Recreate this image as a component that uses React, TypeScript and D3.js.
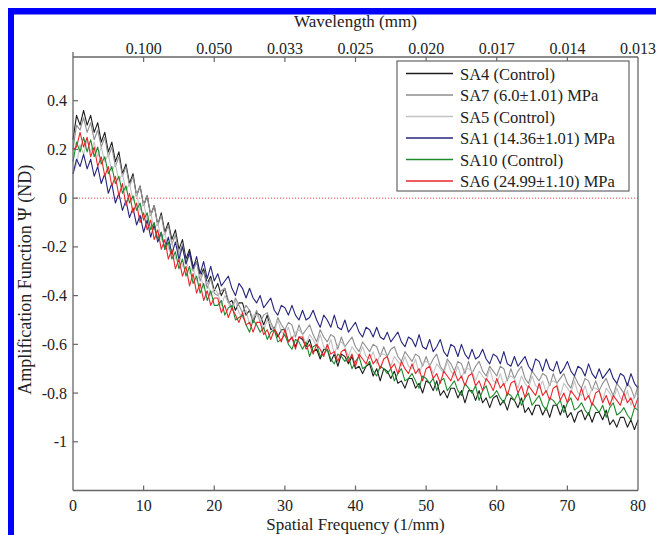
import React from "react";
import * as d3 from "d3";

// spatial frequency grid (1/mm), one sample every 0.5
const freq: number[] = d3.range(0, 80.0001, 0.5);

const xTicks = [0, 10, 20, 30, 40, 50, 60, 70, 80];
const yTicks = [0.4, 0.2, 0, -0.2, -0.4, -0.6, -0.8, -1];
const wlTickFreqs = [10, 20, 30, 40, 50, 60, 70, 80];
const wlTickLabels = ["0.100", "0.050", "0.033", "0.025", "0.020", "0.017", "0.014", "0.013"];

const SA4 = [
  0.24, 0.34, 0.30, 0.36, 0.30, 0.34, 0.27, 0.31, 0.23, 0.27,
  0.19, 0.23, 0.15, 0.19, 0.10, 0.14, 0.06, 0.10, 0.01, 0.05,
  -0.03, 0.01, -0.07, -0.03, -0.11, -0.06, -0.14, -0.10, -0.17, -0.13,
  -0.21, -0.17, -0.25, -0.21, -0.28, -0.26, -0.32, -0.29, -0.35, -0.32,
  -0.38,
  -0.35, -0.40, -0.37, -0.43, -0.42, -0.46, -0.43, -0.43, -0.48, -0.46,
  -0.51, -0.47, -0.48, -0.52, -0.48, -0.54, -0.53, -0.57, -0.54, -0.54,
  -0.59, -0.57, -0.61, -0.57, -0.58, -0.61, -0.58, -0.63, -0.62, -0.66,
  -0.62, -0.62, -0.67, -0.64, -0.69, -0.64, -0.65, -0.68, -0.65, -0.70,
  -0.69, -0.72, -0.69, -0.68, -0.73, -0.70, -0.75, -0.70, -0.71, -0.74,
  -0.71, -0.76, -0.75, -0.78, -0.74, -0.74, -0.78, -0.76, -0.80, -0.75,
  -0.76, -0.79, -0.75, -0.81, -0.79, -0.82, -0.78, -0.78, -0.82, -0.79,
  -0.84, -0.79, -0.79, -0.83, -0.79, -0.84, -0.82, -0.86, -0.82, -0.81,
  -0.85, -0.83, -0.87, -0.82, -0.83, -0.86, -0.82, -0.88, -0.86, -0.89,
  -0.85, -0.85, -0.89, -0.86, -0.90, -0.85, -0.85, -0.89, -0.85, -0.90,
  -0.88, -0.92, -0.88, -0.87, -0.91, -0.88, -0.92, -0.88, -0.88, -0.91,
  -0.87, -0.93, -0.91, -0.94, -0.90, -0.90, -0.94, -0.91, -0.95, -0.91,
];

const SA7 = [
  0.20, 0.30, 0.28, 0.33, 0.27, 0.31, 0.24, 0.28, 0.21, 0.25,
  0.17, 0.21, 0.13, 0.17, 0.09, 0.13, 0.05, 0.09, 0.01, 0.05,
  -0.03, 0.01, -0.07, -0.03, -0.11, -0.07, -0.15, -0.11, -0.19, -0.15,
  -0.23, -0.19, -0.27, -0.23, -0.30, -0.26, -0.34, -0.30, -0.37, -0.33,
  -0.39,
  -0.40, -0.38, -0.37, -0.42, -0.45, -0.41, -0.44, -0.47, -0.44, -0.46,
  -0.50, -0.46, -0.51, -0.48, -0.47, -0.51, -0.54, -0.49, -0.52, -0.54,
  -0.51, -0.52, -0.57, -0.52, -0.56, -0.54, -0.52, -0.56, -0.59, -0.54,
  -0.57, -0.59, -0.56, -0.57, -0.62, -0.57, -0.61, -0.59, -0.57, -0.61,
  -0.63, -0.59, -0.61, -0.63, -0.60, -0.61, -0.65, -0.61, -0.65, -0.62,
  -0.61, -0.65, -0.67, -0.63, -0.65, -0.67, -0.64, -0.65, -0.69, -0.65,
  -0.69, -0.66, -0.64, -0.69, -0.71, -0.66, -0.68, -0.71, -0.67, -0.68,
  -0.72, -0.67, -0.72, -0.69, -0.67, -0.71, -0.73, -0.69, -0.71, -0.73,
  -0.69, -0.70, -0.75, -0.70, -0.74, -0.71, -0.69, -0.74, -0.76, -0.71,
  -0.73, -0.75, -0.72, -0.73, -0.77, -0.72, -0.76, -0.74, -0.72, -0.76,
  -0.78, -0.73, -0.76, -0.78, -0.74, -0.75, -0.79, -0.75, -0.79, -0.76,
  -0.74, -0.78, -0.81, -0.76, -0.78, -0.80, -0.76, -0.78, -0.82, -0.77,
];

const SA5 = [
  0.10, 0.14, 0.22, 0.18, 0.24, 0.19, 0.23, 0.17, 0.21, 0.15,
  0.18, 0.11, 0.14, 0.07, 0.10, 0.03, 0.06, -0.01, 0.02, -0.05,
  -0.02, -0.09, -0.06, -0.13, -0.10, -0.17, -0.14, -0.21, -0.18, -0.25,
  -0.22, -0.28, -0.25, -0.31, -0.28, -0.34, -0.31, -0.37, -0.34, -0.40,
  -0.37,
  -0.39, -0.44, -0.40, -0.43, -0.46, -0.42, -0.47, -0.49, -0.46, -0.52,
  -0.48, -0.48, -0.50, -0.54, -0.50, -0.52, -0.55, -0.50, -0.55, -0.56,
  -0.53, -0.58, -0.55, -0.54, -0.56, -0.60, -0.56, -0.58, -0.61, -0.56,
  -0.61, -0.62, -0.58, -0.64, -0.60, -0.59, -0.61, -0.65, -0.61, -0.63,
  -0.65, -0.61, -0.65, -0.66, -0.63, -0.68, -0.64, -0.64, -0.65, -0.69,
  -0.65, -0.67, -0.69, -0.65, -0.69, -0.70, -0.66, -0.72, -0.68, -0.67,
  -0.68, -0.72, -0.68, -0.70, -0.72, -0.67, -0.71, -0.73, -0.69, -0.74,
  -0.70, -0.70, -0.71, -0.75, -0.71, -0.73, -0.75, -0.70, -0.75, -0.76,
  -0.72, -0.77, -0.74, -0.73, -0.74, -0.78, -0.73, -0.76, -0.78, -0.73,
  -0.77, -0.78, -0.75, -0.80, -0.76, -0.75, -0.76, -0.81, -0.76, -0.78,
  -0.80, -0.75, -0.80, -0.81, -0.77, -0.82, -0.78, -0.78, -0.79, -0.83,
  -0.78, -0.80, -0.83, -0.78, -0.82, -0.83, -0.79, -0.85, -0.81, -0.80,
];

const SA1 = [
  0.10, 0.16, 0.13, 0.18, 0.12, 0.16, 0.09, 0.13, 0.06, 0.10,
  0.02, 0.06, -0.02, 0.02, -0.05, -0.01, -0.08, -0.04, -0.11, -0.07,
  -0.14, -0.09, -0.16, -0.11, -0.18, -0.14, -0.21, -0.16, -0.23, -0.18,
  -0.25, -0.20, -0.27, -0.22, -0.29, -0.24, -0.31, -0.26, -0.33, -0.28,
  -0.34,
  -0.31, -0.36, -0.34, -0.32, -0.37, -0.40, -0.35, -0.37, -0.41, -0.37,
  -0.41, -0.43, -0.40, -0.45, -0.43, -0.41, -0.46, -0.48, -0.44, -0.45,
  -0.48, -0.44, -0.48, -0.50, -0.46, -0.50, -0.49, -0.46, -0.50, -0.53,
  -0.48, -0.50, -0.53, -0.48, -0.53, -0.54, -0.50, -0.55, -0.53, -0.51,
  -0.55, -0.57, -0.53, -0.54, -0.57, -0.53, -0.57, -0.58, -0.55, -0.59,
  -0.57, -0.55, -0.59, -0.61, -0.57, -0.58, -0.61, -0.56, -0.61, -0.62,
  -0.58, -0.63, -0.61, -0.58, -0.63, -0.65, -0.60, -0.61, -0.65, -0.60,
  -0.64, -0.66, -0.62, -0.66, -0.65, -0.62, -0.66, -0.68, -0.64, -0.65,
  -0.68, -0.63, -0.68, -0.69, -0.65, -0.69, -0.67, -0.65, -0.69, -0.71,
  -0.66, -0.67, -0.71, -0.66, -0.70, -0.71, -0.67, -0.72, -0.70, -0.67,
  -0.71, -0.73, -0.69, -0.70, -0.73, -0.68, -0.72, -0.74, -0.70, -0.74,
  -0.72, -0.70, -0.74, -0.76, -0.72, -0.73, -0.77, -0.72, -0.76, -0.78,
];

const SA10 = [
  0.15, 0.23, 0.19, 0.25, 0.19, 0.24, 0.17, 0.21, 0.14, 0.17,
  0.10, 0.13, 0.06, 0.09, 0.02, 0.05, -0.02, 0.01, -0.05, -0.02,
  -0.09, -0.06, -0.13, -0.10, -0.17, -0.14, -0.21, -0.18, -0.25, -0.22,
  -0.29, -0.25, -0.32, -0.28, -0.35, -0.32, -0.39, -0.35, -0.42, -0.38,
  -0.44,
  -0.44, -0.42, -0.48, -0.45, -0.44, -0.50, -0.49, -0.48, -0.52, -0.55,
  -0.50, -0.52, -0.55, -0.53, -0.58, -0.55, -0.54, -0.59, -0.58, -0.56,
  -0.60, -0.62, -0.58, -0.59, -0.62, -0.59, -0.65, -0.61, -0.60, -0.65,
  -0.64, -0.62, -0.66, -0.68, -0.64, -0.65, -0.67, -0.65, -0.70, -0.67,
  -0.65, -0.70, -0.69, -0.67, -0.71, -0.73, -0.69, -0.70, -0.72, -0.70,
  -0.75, -0.72, -0.70, -0.75, -0.74, -0.72, -0.75, -0.78, -0.73, -0.74,
  -0.76, -0.74, -0.79, -0.75, -0.74, -0.79, -0.77, -0.75, -0.79, -0.81,
  -0.76, -0.78, -0.80, -0.77, -0.83, -0.79, -0.77, -0.82, -0.81, -0.79,
  -0.82, -0.84, -0.80, -0.81, -0.83, -0.80, -0.85, -0.82, -0.80, -0.85,
  -0.83, -0.81, -0.85, -0.87, -0.82, -0.83, -0.85, -0.83, -0.88, -0.84,
  -0.82, -0.87, -0.86, -0.84, -0.87, -0.89, -0.84, -0.86, -0.88, -0.85,
  -0.90, -0.86, -0.84, -0.89, -0.88, -0.86, -0.89, -0.91, -0.86, -0.87,
];

const SA6 = [
  0.20, 0.21, 0.27, 0.21, 0.25, 0.17, 0.21, 0.13, 0.17, 0.09,
  0.13, 0.05, 0.09, 0.01, 0.06, -0.03, 0.02, -0.06, -0.02, -0.10,
  -0.06, -0.13, -0.09, -0.17, -0.13, -0.21, -0.17, -0.25, -0.21, -0.29,
  -0.25, -0.32, -0.28, -0.36, -0.31, -0.39, -0.35, -0.42, -0.38, -0.44,
  -0.41,
  -0.41, -0.47, -0.44, -0.49, -0.45, -0.48, -0.51, -0.47, -0.52, -0.51,
  -0.55, -0.51, -0.51, -0.56, -0.54, -0.58, -0.54, -0.56, -0.59, -0.54,
  -0.59, -0.57, -0.62, -0.57, -0.57, -0.62, -0.60, -0.64, -0.60, -0.62,
  -0.65, -0.60, -0.64, -0.63, -0.67, -0.63, -0.62, -0.67, -0.64, -0.69,
  -0.64, -0.66, -0.68, -0.64, -0.68, -0.66, -0.70, -0.66, -0.65, -0.70,
  -0.68, -0.72, -0.67, -0.70, -0.72, -0.68, -0.72, -0.70, -0.75, -0.70,
  -0.69, -0.74, -0.72, -0.76, -0.71, -0.73, -0.75, -0.71, -0.75, -0.73,
  -0.77, -0.73, -0.72, -0.77, -0.75, -0.79, -0.74, -0.76, -0.79, -0.74,
  -0.78, -0.76, -0.81, -0.76, -0.75, -0.80, -0.77, -0.82, -0.77, -0.79,
  -0.81, -0.76, -0.81, -0.79, -0.83, -0.78, -0.77, -0.83, -0.80, -0.84,
  -0.79, -0.81, -0.83, -0.78, -0.83, -0.81, -0.85, -0.80, -0.79, -0.84,
  -0.81, -0.85, -0.81, -0.83, -0.85, -0.80, -0.84, -0.82, -0.86, -0.82,
];

const seriesNames = [
  "SA4 (Control)",
  "SA7 (6.0±1.01) MPa",
  "SA5 (Control)",
  "SA1 (14.36±1.01) MPa",
  "SA10 (Control)",
  "SA6 (24.99±1.10) MPa",
];
const seriesValues = [SA4, SA7, SA5, SA1, SA10, SA6];
const seriesColors = ["#1c1c1c", "#8e8e8e", "#c2c2c2", "#25257e", "#1d8a2c", "#e8262c"];

const PAGE_W = 656;
const PAGE_H = 535;
const FONT = "'Liberation Serif', 'Times New Roman', serif";
const AXIS = "#666";
const TEXT = "#222";

export default function App() {
  // page coordinates (svg is pinned to the top-left corner of the page)
  const left = 73;
  const right = 638;
  const boxTop = 57;
  const bottom = 490.5;
  const x = d3.scaleLinear().domain([0, 80]).range([left, right]);
  const y = d3.scaleLinear().domain([-1.2, 0.6]).range([bottom, 52]);
  const line = d3
    .line<number>()
    .x((_, i) => x(freq[i]))
    .y((d) => y(d));

  const legX = 397;
  const legY = 61;
  const legW = 232;
  const legH = 130;
  const rowH = 21.5;

  return (
    <svg
      width={PAGE_W}
      height={PAGE_H}
      style={{ position: "absolute", left: 0, top: 0, display: "block", fontFamily: FONT }}
    >
      <rect x={0} y={0} width={PAGE_W} height={PAGE_H} fill="#fff" />
      {/* blue frame */}
      <rect x={8} y={8} width={PAGE_W - 8} height={6.5} fill="#0000ff" />
      <rect x={8} y={8} width={6} height={PAGE_H - 8} fill="#0000ff" />

      {/* zero reference */}
      <line
        x1={x(0)}
        x2={x(80)}
        y1={y(0)}
        y2={y(0)}
        stroke="#e84a4a"
        strokeWidth={1}
        strokeDasharray="1.2,1.8"
      />

      {/* series */}
      {seriesValues.map((vals, k) => (
        <path
          key={k}
          d={line(vals.slice(0, freq.length)) || ""}
          fill="none"
          stroke={seriesColors[k]}
          strokeWidth={1.1}
          strokeLinejoin="round"
        />
      ))}

      {/* axes box */}
      <line x1={left} x2={left} y1={y(0.6)} y2={bottom} stroke={AXIS} strokeWidth={1.3} />
      <line x1={left} x2={right} y1={bottom} y2={bottom} stroke={AXIS} strokeWidth={1.3} />
      <line x1={left} x2={right} y1={boxTop} y2={boxTop} stroke={AXIS} strokeWidth={1.3} />
      <line x1={right} x2={right} y1={boxTop} y2={bottom} stroke={AXIS} strokeWidth={1.3} />

      {/* bottom ticks */}
      {xTicks.map((t) => (
        <g key={"xb" + t}>
          {t > 0 && t < 80 && (
            <line x1={x(t)} x2={x(t)} y1={bottom} y2={bottom - 5} stroke={AXIS} strokeWidth={1.2} />
          )}
          <text x={x(t)} y={511} textAnchor="middle" fontSize={16} fill={TEXT}>
            {t}
          </text>
        </g>
      ))}
      {/* left ticks */}
      {yTicks.map((t) => (
        <g key={"yl" + t}>
          <line x1={left} x2={left + 5} y1={y(t)} y2={y(t)} stroke={AXIS} strokeWidth={1.2} />
          <text x={left - 6} y={y(t) + 5.5} textAnchor="end" fontSize={16} fill={TEXT}>
            {t === 0 ? "0" : String(t)}
          </text>
        </g>
      ))}
      {/* top wavelength ticks */}
      {wlTickFreqs.map((f, i) => (
        <g key={"wt" + f}>
          {f < 80 && (
            <line x1={x(f)} x2={x(f)} y1={boxTop} y2={boxTop + 5} stroke={AXIS} strokeWidth={1.2} />
          )}
          <text x={x(f)} y={54} textAnchor="middle" fontSize={16} fill={TEXT}>
            {wlTickLabels[i]}
          </text>
        </g>
      ))}

      {/* axis titles */}
      <text x={(left + right) / 2} y={27} textAnchor="middle" fontSize={17} fill={TEXT}>
        Wavelength (mm)
      </text>
      <text x={(left + right) / 2} y={530} textAnchor="middle" fontSize={17} fill={TEXT}>
        Spatial Frequency (1/mm)
      </text>
      <text
        transform={`translate(31, ${(boxTop + bottom) / 2 + 6}) rotate(-90)`}
        textAnchor="middle"
        fontSize={18}
        fill={TEXT}
      >
        Amplification Function Ψ (ND)
      </text>

      {/* legend */}
      <rect x={legX} y={legY} width={legW} height={legH} fill="#fff" stroke={AXIS} strokeWidth={1.2} />
      {seriesNames.map((name, i) => {
        const ry = legY + 12.5 + i * rowH;
        return (
          <g key={name}>
            <line x1={legX + 9} x2={legX + 56} y1={ry} y2={ry} stroke={seriesColors[i]} strokeWidth={1.3} />
            <text x={legX + 63} y={ry + 6} fontSize={16.5} fill={TEXT}>
              {name}
            </text>
          </g>
        );
      })}
    </svg>
  );
}
